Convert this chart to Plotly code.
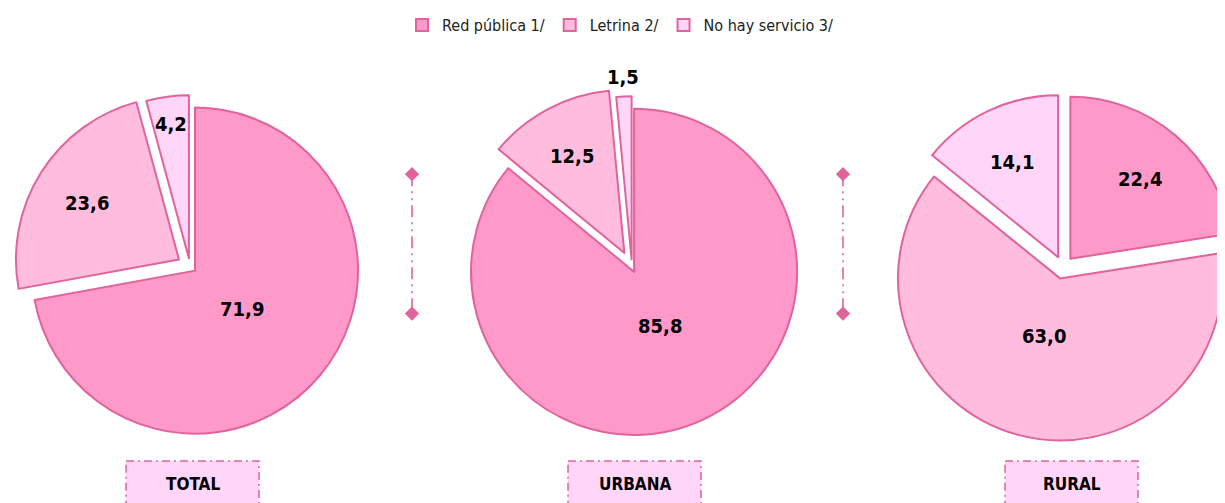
import math
import plotly.graph_objects as go

# page body has an 8px margin, so the figure is laid out in its own coordinates
W, H = 1250, 503

# ---------------- data ----------------
labels = ["Red pública 1/", "Letrina 2/", "No hay servicio 3/"]
areas = ["TOTAL", "URBANA", "RURAL"]
total_vals = [71.9, 23.6, 4.2]
urbana_vals = [85.8, 12.5, 1.5]
rural_vals = [22.4, 63.0, 14.1]
series = [total_vals, urbana_vals, rural_vals]

# ---------------- style ----------------
colors = ["#FF99C9", "#FFBCDD", "#FFD6F8"]
edge = "#E0649B"
box_fill = "#FFD6F8"
FONT = "DejaVu Sans Condensed, Liberation Sans Narrow, Liberation Sans, Arial, sans-serif"

# pixel geometry of each pie: centre, radius, pull of each slice
geom = [
    dict(cx=182, cy=254, r=166, pull=[0.04, 0.08, 0.05], box=(118, 251)),
    dict(cx=624, cy=255, r=166, pull=[0.03, 0.10, 0.05], box=(560, 693)),
    dict(cx=1055, cy=255, r=165, pull=[0.07, 0.07, 0.07], box=(997, 1130)),
]
separators_x = [404, 835]
sep_y = (160, 302)

fig = go.Figure()
annotations = []
shapes = []

for vals, g, area in zip(series, geom, areas):
    mp = max(g["pull"])
    half = g["r"] * (1 + mp)
    dom_x = [max(0, (g["cx"] - half) / W), min(1, (g["cx"] + half) / W)]
    dom_y = [max(0, (H - g["cy"] - half) / H), min(1, (H - g["cy"] + half) / H)]
    fig.add_trace(go.Pie(
        labels=labels, values=vals, sort=False, direction="clockwise", rotation=0,
        pull=g["pull"], domain=dict(x=dom_x, y=dom_y),
        marker=dict(colors=colors, line=dict(color=edge, width=2)),
        textinfo="none", hoverinfo="label+value", name=area,
    ))
    # value labels placed along each slice bisector
    tot = sum(vals)
    cum = 0.0
    for v, p in zip(vals, g["pull"]):
        frac = v / tot
        mid = 2 * math.pi * (cum + frac / 2)
        cum += frac
        ux, uy = math.sin(mid), -math.cos(mid)
        half_ang = math.pi * frac
        if frac >= 0.5:
            k = 0.37
        elif frac < 0.03:
            k = 1.12
        else:
            k = max(0.65, 0.95 - 1 / (1 + 1 / math.sin(half_ang)))
        px = g["cx"] + (p + k) * g["r"] * ux
        py = g["cy"] + (p + k) * g["r"] * uy
        annotations.append(dict(
            x=px, y=py, xref="x", yref="y", showarrow=False,
            text="<b>%s</b>" % ("%.1f" % v).replace(".", ","),
            font=dict(family=FONT, size=20, color="black"),
        ))
    # area box
    x0, x1 = g["box"]
    shapes.append(dict(type="rect", xref="x", yref="y", x0=x0, x1=x1, y0=452, y1=515,
                       fillcolor=box_fill, line=dict(color=edge, width=1.5, dash="8px,4px,2px,4px"),
                       layer="below"))
    annotations.append(dict(x=(x0 + x1) / 2, y=475, xref="x", yref="y", showarrow=False,
                            text="<b>%s</b>" % area,
                            font=dict(family=FONT, size=17, color="black")))

for sx in separators_x:
    fig.add_trace(go.Scatter(
        x=[sx, sx], y=list(sep_y), mode="lines+markers", showlegend=False, hoverinfo="skip",
        line=dict(color=edge, width=1.6, dash="12px,5px,2px,5px,2px,5px"),
        marker=dict(symbol="diamond", size=11, color=edge),
    ))

fig.update_layout(
    width=W, height=H, margin=dict(l=0, r=0, t=0, b=0),
    paper_bgcolor="white", plot_bgcolor="rgba(0,0,0,0)",
    xaxis=dict(range=[0, W], visible=False, fixedrange=True),
    yaxis=dict(range=[H, 0], visible=False, fixedrange=True),
    showlegend=True,
    legend=dict(orientation="h", x=612 / W, xanchor="center", y=1.018, yanchor="top",
                font=dict(family=FONT, size=16, color="#222222"),
                itemwidth=30, traceorder="normal"),
    annotations=annotations, shapes=shapes,
)

fig.write_html("out.html")
